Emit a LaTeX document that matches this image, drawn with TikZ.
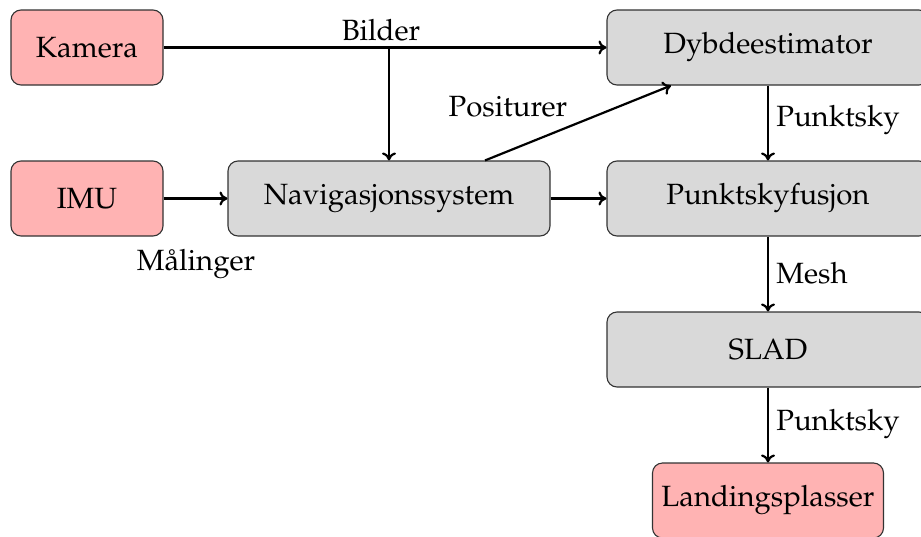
\documentclass[tikz,border=0pt]{standalone}
\usepackage[T1]{fontenc}
\usepackage{mathpazo}
\usetikzlibrary{arrows.meta}
\definecolor{boxred}{RGB}{255,179,179}
\definecolor{boxgray}{RGB}{217,217,217}
\tikzset{
  blk/.style={draw=black!80, line width=1.1pt, rounded corners=10pt, inner sep=0pt, minimum height=75pt, font=\fontsize{29.3}{34}\selectfont},
  redblk/.style={blk, fill=boxred},
  grayblk/.style={blk, fill=boxgray},
  conn/.style={line width=2.2pt, -{To[length=8pt,width=14pt]}},
  lbl/.style={font=\fontsize{29.3}{34}\selectfont, inner sep=0pt}
}
\begin{document}
\begin{tikzpicture}[x=1pt,y=-1pt]
\useasboundingbox (0,0) rectangle (921,536);
\node[redblk, minimum width=152pt] (kam) at (87,47.5) {Kamera};
\node[redblk, minimum width=152pt] (imu) at (87,198.5) {IMU};
\node[grayblk, minimum width=322pt] (nav) at (389,198.5) {Navigasjonssystem};
\node[grayblk, minimum width=322pt] (dyb) at (768,47.5) {Dybdeestimator};
\node[grayblk, minimum width=322pt] (pkf) at (768,198.5) {Punktskyfusjon};
\node[grayblk, minimum width=322pt] (slad) at (768,349.5) {SLAD};
\node[redblk, minimum width=231pt] (land) at (768,500.5) {Landingsplasser};
\coordinate (br) at (389,47.5);
\draw[conn] (kam.east) -- (dyb.west);
\draw[conn] (br) -- (nav.north);
\draw[conn] (imu.east) -- (nav.west);
\draw[conn] (nav.east) -- (pkf.west);
\draw[conn] ([xshift=96pt]nav.north) -- ([xshift=-97pt]dyb.south);
\draw[conn] (dyb.south) -- (pkf.north);
\draw[conn] (pkf.south) -- (slad.north);
\draw[conn] (slad.south) -- (land.north);
\node[lbl] (lb1) at (381,30) {Bilder};
\node[lbl] (lb2) at (508,107) {Positurer};
\node[lbl] (lb3) at (196,264) {M{\aa}linger};
\node[lbl] (lb4) at (838,120) {Punktsky};
\node[lbl] (lb5) at (812,273) {Mesh};
\node[lbl] (lb6) at (838,424) {Punktsky};
\end{tikzpicture}
\end{document}
